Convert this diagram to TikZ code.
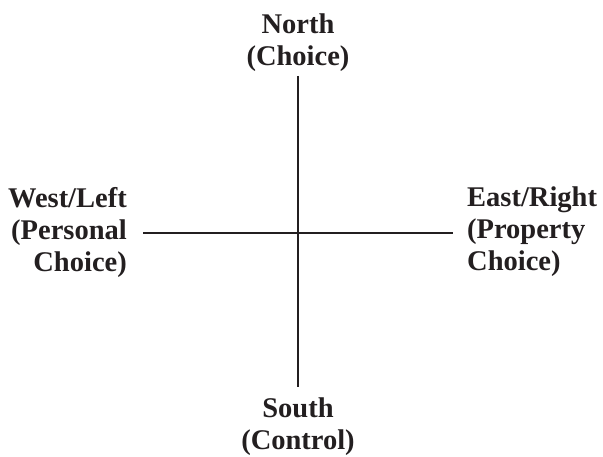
\documentclass[tikz,border=0pt]{standalone}
\usepackage{fontspec}
\setmainfont{Liberation Serif}
\definecolor{inkgray}{HTML}{231F20}
\tikzset{
  pole/.style={font=\fontsize{28.5}{32}\selectfont\bfseries, text=inkgray, inner sep=0pt},
  axis/.style={draw=inkgray, line width=2pt}
}
\begin{document}
\begin{tikzpicture}[x=1pt, y=-1pt]
                \useasboundingbox (0,0) rectangle (603,457);
                % axis end points
                \coordinate (top) at (298,76);
                \coordinate (bottom) at (298,387);
                \coordinate (left) at (143,233);
                \coordinate (right) at (453,233);
                
                \draw[axis] (top) -- (bottom);
                \draw[axis] (left) -- (right);
                
                % labels at the four ends
                \node[pole, align=center, anchor=north] (north) at (298,14) {North\\(Choice)};
                \node[pole, align=center, anchor=north] (south) at (298,398) {South\\(Control)};
                \node[pole, align=right, anchor=north east] (west) at (127,187) {West/Left\\(Personal\\Choice)};
                \node[pole, align=left, anchor=north west] (east) at (467,187) {East/Right\\(Property\\Choice)};
            \end{tikzpicture}
\end{document}
